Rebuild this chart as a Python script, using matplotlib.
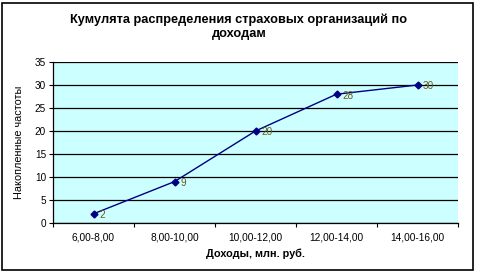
import matplotlib
matplotlib.use("Agg")
import matplotlib.pyplot as plt
from matplotlib.patches import Rectangle

categories = ["6,00-8,00", "8,00-10,00", "10,00-12,00", "12,00-14,00", "14,00-16,00"]
values = [2, 9, 20, 28, 30]
yticks = [0, 5, 10, 15, 20, 25, 30, 35]

plt.rcParams['font.family'] = ['Liberation Sans', 'DejaVu Sans']

fig = plt.figure(figsize=(4.79, 2.75), dpi=100)
fig.patch.set_facecolor('white')
fig.add_artist(Rectangle((2/479, 1-270/275), 471/479, 267/275, transform=fig.transFigure,
                         fill=False, edgecolor='black', linewidth=1.2))

ax = fig.add_axes([53/479, 1-223/275, 405/479, 161/275])
ax.set_facecolor('#CCFFFF')
x = list(range(len(categories)))
ax.plot(x, values, color='#000080', marker='D', markersize=3.5, linewidth=1, zorder=3)
for xi, v in zip(x, values):
    ax.annotate(str(v), (xi, v), xytext=(4, -1), textcoords='offset points',
                fontsize=7.2, color='#6b5a1e', va='center', ha='left', zorder=4)

ax.set_xlim(-0.5, len(categories) - 0.5)
ax.set_ylim(0, 35)
ax.set_yticks(yticks)
ax.set_xticks(x)
ax.set_xticklabels(categories, fontsize=7.3)
ax.tick_params(axis='y', labelsize=7.2, length=3, width=0.8, direction='out', pad=2)
ax.tick_params(axis='x', length=0, pad=7)
ax.set_xticks([i + 0.5 for i in range(-1, len(categories))], minor=True)
ax.tick_params(axis='x', which='minor', length=3, width=0.8, direction='out')
ax.yaxis.grid(True, color='black', linewidth=0.9)
ax.set_axisbelow(True)
for s in ['top', 'right']:
    ax.spines[s].set_visible(False)
ax.spines['left'].set_linewidth(0.9)
ax.spines['bottom'].set_linewidth(0.9)

ax.set_xlabel("Доходы, млн. руб.", fontsize=7.8, fontweight='bold', labelpad=4)
ax.set_ylabel("Накопленные частоты", fontsize=7.8, labelpad=8)

fig.text(239/479, 1-27/275, "Кумулята распределения страховых организаций по\nдоходам",
         ha='center', va='center', fontsize=9.2, fontweight='bold', linespacing=1.2)

fig.savefig("out.png", dpi=100)
